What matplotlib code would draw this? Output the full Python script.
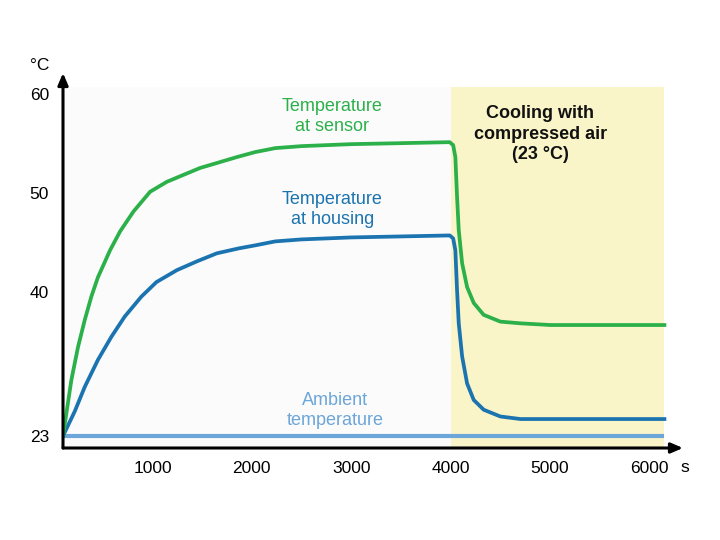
import numpy as np
import matplotlib
matplotlib.use("Agg")
import matplotlib.pyplot as plt
from matplotlib.patches import Rectangle

plt.rcParams['font.family'] = ['Liberation Sans', 'DejaVu Sans']

# ---- data ----
sensor_t = [100, 184, 251, 319, 385, 452, 506, 573, 674, 808, 976, 1144, 1311, 1479, 1648,
            1850, 2033, 2235, 2500, 3000, 3500, 3990, 4025, 4047, 4064, 4081, 4115, 4165,
            4232, 4332, 4500, 4702, 5004, 5500, 6150]
sensor_v = [23.0, 29.6, 33.5, 36.7, 39.45, 41.5, 42.7, 44.2, 46.1, 48.1, 50.1, 51.1, 51.8,
            52.5, 53.0, 53.6, 54.1, 54.5, 54.7, 54.9, 55.0, 55.1, 54.8, 53.6, 49.6, 46.25,
            42.9, 40.5, 38.7, 37.3, 36.5, 36.3, 36.1, 36.1, 36.1]

housing_t = [100, 218, 319, 452, 586, 721, 888, 1040, 1245, 1450, 1648, 1870, 2033,
             2235, 2500, 3000, 3500, 3990, 4025, 4047, 4064, 4081, 4115, 4165, 4232, 4332,
             4500, 4702, 5004, 5500, 6150]
housing_v = [23.0, 25.9, 28.8, 32.0, 34.7, 37.1, 39.45, 41.0, 42.2, 43.1, 43.9, 44.4,
             44.7, 45.1, 45.3, 45.5, 45.6, 45.7, 45.4, 44.2, 40.2, 36.3, 32.4, 29.2, 27.25,
             26.1, 25.3, 25.0, 25.0, 25.0, 25.0]

ambient_t = [100, 6150]
ambient_v = [23, 23]

yticks = [23, 40, 50, 60]
xticks = [1000, 2000, 3000, 4000, 5000, 6000]
cooling_start, cooling_end = 4000, 6150

green = '#2cb04a'
blue = '#1b74b0'
light_blue = '#6da6d8'
yellow = '#faf5c9'

# piecewise y-scale: range below 40 is compressed
k = 0.8535
def fwd(v):
    v = np.asarray(v, dtype=float)
    return np.where(v >= 40, v, 40 - (40 - v) * k)
def inv(u):
    u = np.asarray(u, dtype=float)
    return np.where(u >= 40, u, 40 - (40 - u) / k)

fig = plt.figure(figsize=(7.2, 5.4), dpi=100)
ax = fig.add_axes([63/720, 1 - 448/540, (683-63)/720, (448-73)/540])
ax.set_yscale('function', functions=(fwd, inv))
ax.set_xlim(100, 6337)
ax.set_ylim(21.58, 62.07)

ybot = 21.58
ytop_panel = 60.66
# plot-area background and cooling region
ax.add_patch(Rectangle((100, ybot), cooling_start - 100, ytop_panel - ybot,
                       facecolor='#fbfbfc', edgecolor='none', zorder=0))
ax.add_patch(Rectangle((cooling_start, ybot), cooling_end - cooling_start, ytop_panel - ybot,
                       facecolor=yellow, edgecolor='none', zorder=0))

ax.plot(ambient_t, ambient_v, color=light_blue, lw=3.0, solid_capstyle='butt', zorder=2)
ax.plot(housing_t, housing_v, color=blue, lw=2.7, solid_joinstyle='round', zorder=3)
ax.plot(sensor_t, sensor_v, color=green, lw=2.7, solid_joinstyle='round', zorder=3)

for s in ax.spines.values():
    s.set_visible(False)
ax.set_xticks(xticks)
ax.set_xticklabels([str(x) for x in xticks])
ax.set_yticks(yticks)
ax.set_yticklabels([str(y) for y in yticks])
ax.tick_params(length=0, labelsize=12.5)
ax.tick_params(axis='x', pad=9.5)
ax.tick_params(axis='y', pad=10)
ax.minorticks_off()

# axis arrows
ax.annotate('', xy=(0, 1), xytext=(0, 0), xycoords='axes fraction',
            arrowprops=dict(arrowstyle='-|>,head_length=0.7,head_width=0.3', color='black', lw=2.2,
                            shrinkA=0, shrinkB=0), annotation_clip=False)
ax.annotate('', xy=(1, 0), xytext=(0, 0), xycoords='axes fraction',
            arrowprops=dict(arrowstyle='-|>,head_length=0.7,head_width=0.3', color='black', lw=2.2,
                            shrinkA=0, shrinkB=0), annotation_clip=False)

fig.text(40/720, 1 - 65/540, '°C', fontsize=12.5, ha='center', va='center')
fig.text(685/720, 1 - 468/540, 's', fontsize=12.5, ha='center', va='center')

ax.text(2809, 57.7, 'Temperature\nat sensor', color=green, fontsize=13, ha='center',
        va='center', linespacing=1.25)
ax.text(2809, 48.3, 'Temperature\nat housing', color=blue, fontsize=13, ha='center',
        va='center', linespacing=1.25)
ax.text(2839, 26.0, 'Ambient\ntemperature', color=light_blue, fontsize=13, ha='center',
        va='center', linespacing=1.25)
ax.text(4903, 55.9, 'Cooling with\ncompressed air\n(23 °C)', color='#111111', fontsize=13,
        fontweight='bold', ha='center', va='center', linespacing=1.25)

fig.savefig('out.png', dpi=100)
